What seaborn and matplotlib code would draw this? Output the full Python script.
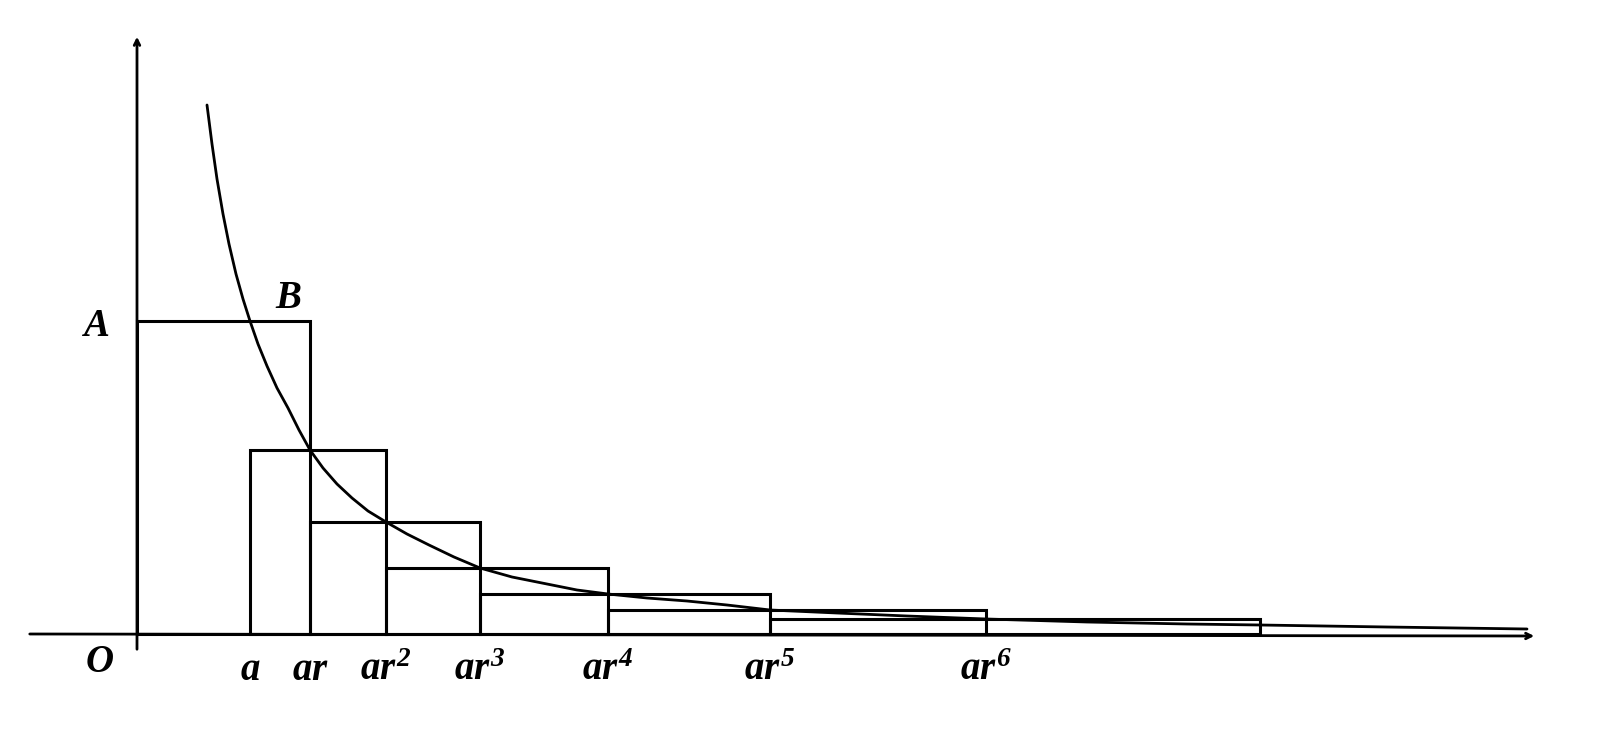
import matplotlib
matplotlib.use("Agg")
import matplotlib.pyplot as plt
import seaborn as sns
from matplotlib.patches import Rectangle

sns.set_style("white")
plt.rcParams['font.family'] = ['Liberation Serif', 'DejaVu Serif']
plt.rcParams['mathtext.fontset'] = 'custom'
plt.rcParams['mathtext.rm'] = 'Liberation Serif:bold:italic'
plt.rcParams['mathtext.it'] = 'Liberation Serif:bold:italic'
plt.rcParams['mathtext.bf'] = 'Liberation Serif:bold:italic'

# x positions of a, ar, ar^2 ... ar^7 (pixel-like units from O)
xs = [113, 173, 249, 343, 471, 633, 849, 1123]
tick_labels = ["$a$", "$ar$", "$ar^2$", "$ar^3$", "$ar^4$", "$ar^5$", "$ar^6$"]
rect_left = [0, 113, 173, 249, 343, 471, 633]
rect_right = [173, 249, 343, 471, 633, 849, 1123]
rect_h = [313, 184, 112, 66, 40, 24, 15]
# curve points read along the hyperbola
curve_x = [70, 75, 80, 86, 92, 99, 106, 113, 121, 130, 140, 151, 162, 173, 186, 200, 215, 231,
           249, 270, 292, 317, 343, 375, 410, 440, 471, 510, 550, 590, 633, 700, 770, 849,
           950, 1050, 1123, 1250, 1390]
curve_y = [529, 490, 455, 420, 390, 360, 335, 313, 290, 268, 246, 226, 204, 184, 166, 150, 136, 123,
           112, 100, 89, 77, 66, 57, 50, 44, 40, 36, 33, 29, 24, 21, 18, 15,
           12, 10, 9, 7, 5]

fig = plt.figure(figsize=(16.08, 7.36), dpi=100)
ax = fig.add_axes([0, 0, 1, 1])
ax.set_xlim(-137, 1608 - 137)
ax.set_ylim(-(736 - 634), 634)
ax.axis("off")

lw = 2.2
for l, r, h in zip(rect_left, rect_right, rect_h):
    ax.add_patch(Rectangle((l, 0), r - l, h, fill=False, lw=lw, ec="black"))

sns.lineplot(x=curve_x, y=curve_y, ax=ax, color="black", lw=2.0, sort=False)

ax.annotate("", xy=(1400, -2), xytext=(-110, 0),
            arrowprops=dict(arrowstyle="->", lw=2, color="black"))
ax.annotate("", xy=(0, 600), xytext=(0, -18),
            arrowprops=dict(arrowstyle="->", lw=2, color="black"))

fs = 28
for x, t in zip(xs, tick_labels):
    ax.text(x, -36, t, ha="center", va="center", fontsize=fs, color="black")
ax.text(-38, -28, "$O$", ha="center", va="center", fontsize=fs, color="black")
ax.text(-42, 308, "$A$", ha="center", va="center", fontsize=fs, color="black")
ax.text(151, 336, "$B$", ha="center", va="center", fontsize=fs, color="black")

fig.savefig("out.png", dpi=100, facecolor="white")
